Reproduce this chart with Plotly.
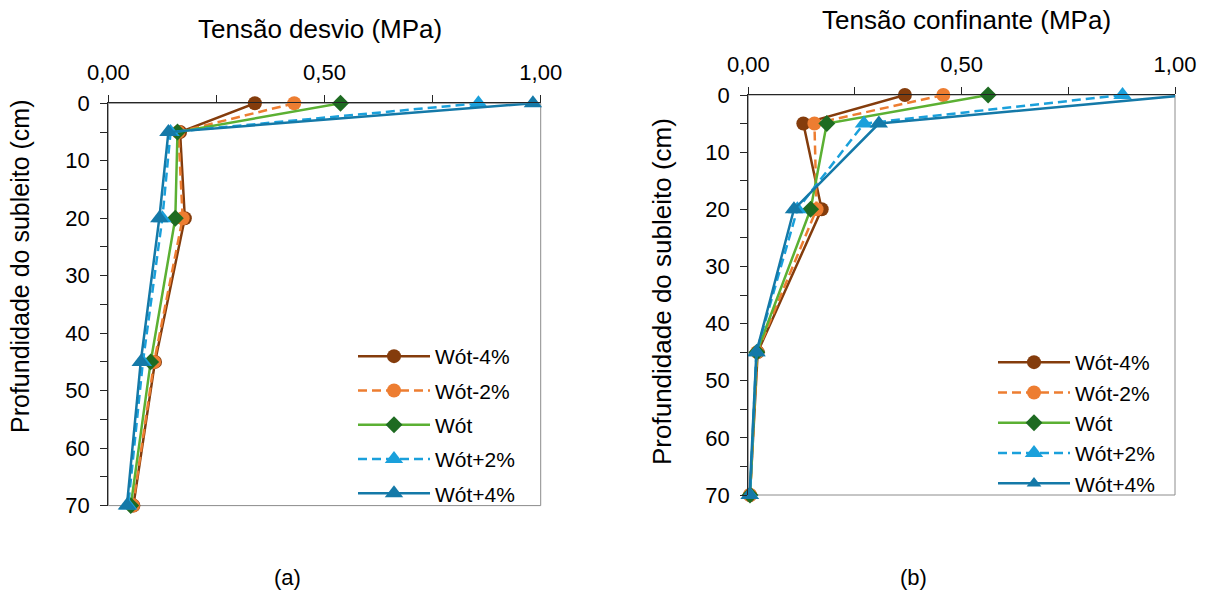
import plotly.graph_objects as go

# Depth below the subgrade surface (cm)
depth = [0, 5, 20, 45, 70]

series_names = ["Wót-4%", "Wót-2%", "Wót", "Wót+2%", "Wót+4%"]

# Deviator stress (MPa) per moisture condition
desvio_m4 = [0.339, 0.166, 0.177, 0.108, 0.058]
desvio_m2 = [0.430, 0.162, 0.172, 0.106, 0.057]
desvio_ot = [0.537, 0.160, 0.155, 0.098, 0.052]
desvio_p2 = [0.856, 0.144, 0.125, 0.080, 0.046]
desvio_p4 = [0.982, 0.139, 0.118, 0.075, 0.043]

# Confining stress (MPa) per moisture condition
confin_m4 = [0.367, 0.129, 0.172, 0.022, 0.004]
confin_m2 = [0.457, 0.155, 0.160, 0.021, 0.004]
confin_ot = [0.562, 0.184, 0.146, 0.020, 0.004]
confin_p2 = [0.877, 0.271, 0.115, 0.019, 0.004]
confin_p4 = [1.030, 0.306, 0.107, 0.019, 0.003]

x_ticks = [0, 0.25, 0.5, 0.75, 1.0]
x_ticktext = ["0,00", "", "0,50", "", "1,00"]
y_ticks = list(range(0, 75, 5))
y_ticktext = [str(v) if v % 10 == 0 else "" for v in y_ticks]

X_MAX = 1.0
FONT = "Arial, Liberation Sans, sans-serif"

styles = [
    dict(color="#843C0C", dash="solid", symbol="circle", size=14, mcolor="#843C0C"),
    dict(color="#ED7D31", dash="9px,5px", symbol="circle", size=14, mcolor="#ED7D31"),
    dict(color="#5BB033", dash="solid", symbol="diamond", size=13, mcolor="#1E6B22"),
    dict(color="#1AA0DB", dash="9px,5px", symbol="triangle-up", size=16, mcolor="#1AA0DB"),
    dict(color="#1479A8", dash="solid", symbol="triangle-up", size=16, mcolor="#1479A8"),
]

fig = go.Figure()

left_sets = [desvio_m4, desvio_m2, desvio_ot, desvio_p2, desvio_p4]
right_sets = [confin_m4, confin_m2, confin_ot, confin_p2, confin_p4]


def add_series(vals, i, xa, ya, leg, group):
    s = styles[i]
    # points beyond the axis maximum keep their line but show no marker
    if all(v <= X_MAX for v in vals):
        sizes = s["size"]
    else:
        sizes = [s["size"] if v <= X_MAX else 0 for v in vals]
    fig.add_trace(go.Scatter(
        x=vals, y=depth, name=series_names[i], mode="lines+markers",
        xaxis=xa, yaxis=ya, legend=leg, legendgroup=group, cliponaxis=False,
        line=dict(color=s["color"], width=2.5, dash=s["dash"]),
        marker=dict(symbol=s["symbol"], size=sizes, color=s["mcolor"],
                    opacity=1, line=dict(width=0)),
    ))


for i, vals in enumerate(left_sets):
    add_series(vals, i, "x", "y", "legend", f"a{i}")
for i, vals in enumerate(right_sets):
    add_series(vals, i, "x2", "y2", "legend2", f"b{i}")

W, H = 1210, 594


def px_x(v):
    return v / W


def px_y(v):
    return 1 - v / H


axis_common = dict(
    showgrid=False, zeroline=False, showline=True, linecolor="#262626", linewidth=1.3,
    ticks="outside", ticklen=7, tickcolor="#262626", tickwidth=1.3, automargin=False,
    tickfont=dict(family=FONT, size=22, color="#000000"),
)

x_common = dict(axis_common, range=[0, X_MAX], side="top", tickmode="array",
                tickvals=x_ticks, ticktext=x_ticktext, ticklabelstandoff=6)
y_common = dict(axis_common, range=[70, 0], tickmode="array",
                tickvals=y_ticks, ticktext=y_ticktext, ticklabelstandoff=6)

fig.update_layout(
    template="none",
    width=W, height=H,
    margin=dict(l=0, r=0, t=0, b=0, autoexpand=False),
    paper_bgcolor="white", plot_bgcolor="white",
    font=dict(family=FONT, color="#000000"),
    xaxis=dict(x_common, domain=[px_x(108.3), px_x(540.7)], anchor="y"),
    yaxis=dict(y_common, domain=[px_y(505.6), px_y(103.3)], anchor="x"),
    xaxis2=dict(x_common, domain=[px_x(748.3), px_x(1175)], anchor="y2"),
    yaxis2=dict(y_common, domain=[px_y(495), px_y(95)], anchor="x2"),
    legend=dict(
        x=px_x(353), y=px_y(336), xanchor="left", yanchor="top",
        font=dict(family=FONT, size=21), bgcolor="rgba(0,0,0,0)", borderwidth=0,
        traceorder="grouped", tracegroupgap=4, itemwidth=72,
    ),
    legend2=dict(
        x=px_x(993), y=px_y(342), xanchor="left", yanchor="top",
        font=dict(family=FONT, size=21), bgcolor="rgba(0,0,0,0)", borderwidth=0,
        traceorder="grouped", tracegroupgap=0, itemwidth=72,
    ),
    showlegend=True,
)

# Plot-area frame (right and bottom edges in grey)
for xr, yr in (("x", "y"), ("x2", "y2")):
    fig.add_shape(type="rect", xref=f"{xr} domain", yref=f"{yr} domain",
                  x0=0, x1=1, y0=0, y1=1, line=dict(color="#8c8c8c", width=1),
                  layer="below")

annots = [
    dict(text="Tensão desvio (MPa)", x=px_x(320), y=px_y(29), size=26, angle=0),
    dict(text="Tensão confinante (MPa)", x=px_x(966), y=px_y(20), size=26, angle=0),
    dict(text="Profundidade do subleito (cm)", x=px_x(20), y=px_y(266), size=25, angle=-90),
    dict(text="Profundidade do subleito (cm)", x=px_x(662), y=px_y(292), size=26, angle=-90),
    dict(text="(a)", x=px_x(287), y=px_y(577), size=22, angle=0),
    dict(text="(b)", x=px_x(914), y=px_y(577), size=22, angle=0),
]
for a in annots:
    fig.add_annotation(text=a["text"], x=a["x"], y=a["y"], xref="paper", yref="paper",
                       xanchor="center", yanchor="middle", showarrow=False,
                       textangle=a["angle"], font=dict(family=FONT, size=a["size"], color="#000000"))

fig.write_html("out.html")
